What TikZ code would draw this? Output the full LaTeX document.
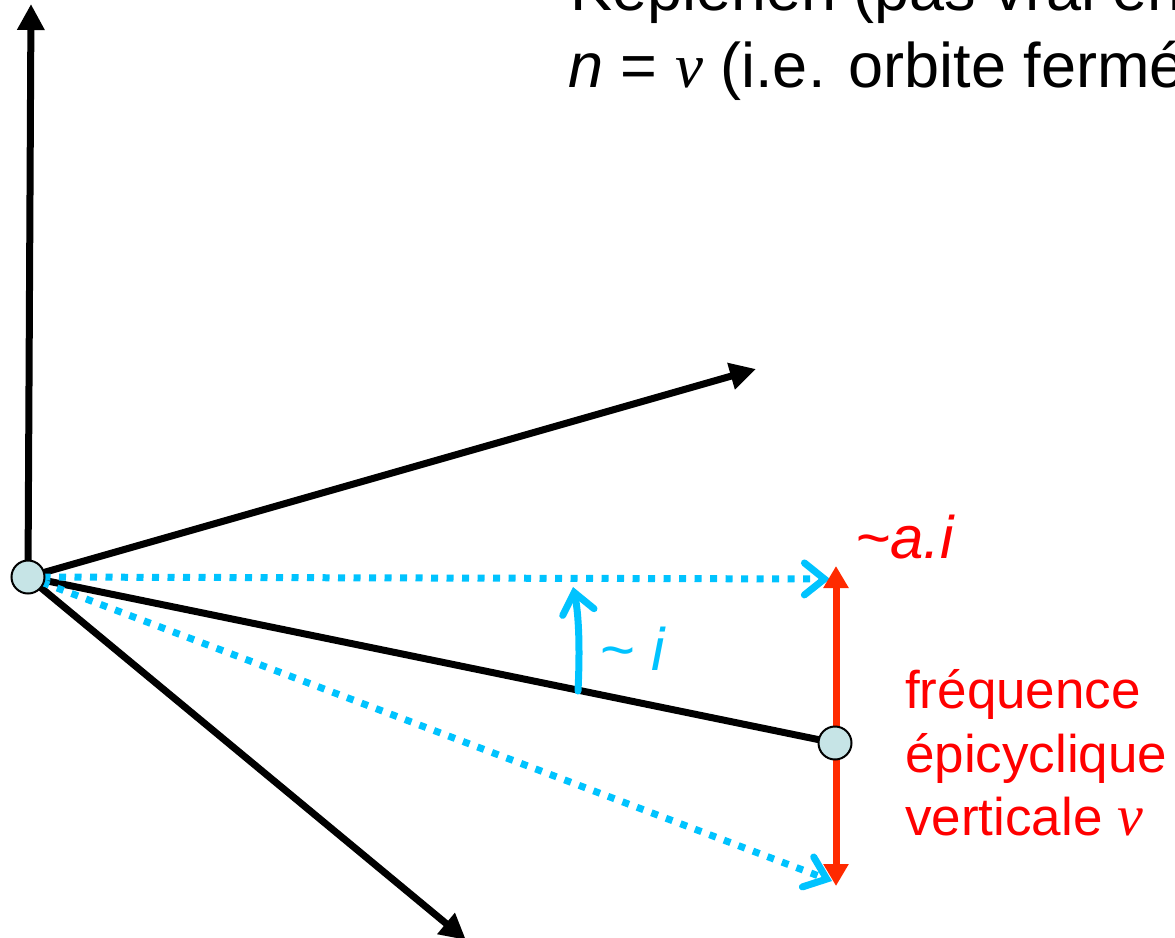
\documentclass[tikz,border=0pt]{standalone}
\usepackage{fontspec}
\setmainfont{Liberation Sans}
\newfontfamily\nufont{Liberation Serif}
\usetikzlibrary{arrows.meta}
\definecolor{cyanb}{HTML}{00C3FF}
\definecolor{redarrow}{HTML}{FF2A00}
\definecolor{redtext}{HTML}{FF0000}
\definecolor{dotfill}{HTML}{C6E4E6}
\tikzset{
  axis/.style={line width=7pt, -{Triangle[length=26pt,width=26pt]}},
  blackline/.style={line width=7pt},
  bluedot/.style={cyanb, line width=7pt, dash pattern=on 7pt off 8.5pt,
     -{Straight Barb[length=20pt,width=32pt,line width=7pt,line cap=round]}},
  bluecurve/.style={cyanb, line width=7pt, line cap=round,
     -{Straight Barb[length=20pt,width=32pt,line width=7pt,line cap=round]}},
  redarr/.style={redarrow, line width=7pt,
     {Triangle[length=22pt,width=24pt]}-{Triangle[length=22pt,width=24pt]}},
  ball/.style={circle, draw=black, line width=2pt, fill=dotfill, minimum size=33pt, inner sep=0pt},
  toptext/.style={font=\fontsize{63}{77}\selectfont, anchor=base west, inner sep=0pt},
  redlabel/.style={redtext, font=\fontsize{53}{63.5}\selectfont, inner sep=0pt},
}
\begin{document}
\begin{tikzpicture}[x=1pt,y=-1pt]
\useasboundingbox (0,0) rectangle (1175,937);
% points
\coordinate (Oc) at (28,577);
\coordinate (Pc) at (835,743);
\coordinate (topTip) at (31,4);
\coordinate (upTip) at (756,369);
\coordinate (downTip) at (466,940);
\coordinate (hTip) at (830,579);
\coordinate (dTip) at (832,881);
\coordinate (rTop) at (836,566);
\coordinate (rBot) at (836,886);
\coordinate (cStart) at (578,691);
\coordinate (cEnd) at (573,587);
% black axes
\draw[axis] (Oc) -- (topTip);
\draw[axis] (Oc) -- (upTip);
\draw[axis] (Oc) -- (downTip);
\draw[blackline] (Oc) -- (Pc);
% blue dotted arrows
\draw[bluedot] (Oc) -- (hTip);
\draw[bluedot] (Oc) -- (dTip);
% red double arrow
\draw[redarr] (rBot) -- (rTop);
% blue curved arrow
\draw[bluecurve] (cStart) .. controls (580,650) and (579,615) .. (cEnd);
% balls
\node[ball] (O) at (Oc) {};
\node[ball] (P) at (Pc) {};
% texts
\node[toptext] (t1) at (570,10) {Keplerien (pas vrai en général)};
\node[toptext] (t2) at (568,87) {\textit{n} = {\nufont\itshape ν} (i.e. orbite fermée)};
\node[redtext, font=\fontsize{60}{70}\selectfont, inner sep=0pt, anchor=base west] (ai) at (855,558) {\itshape\textasciitilde a.i};
\node[cyanb, font=\fontsize{60}{70}\selectfont, anchor=base west, inner sep=0pt] (ti) at (600,670) {\textasciitilde\ \itshape i};
\node[redlabel, anchor=base west] (fr) at (905,708) {fréquence};
\node[redlabel, anchor=base west] (ep) at (905,772) {épicyclique};
\node[redlabel, anchor=base west] (ve) at (905,835) {verticale {\nufont\itshape\fontsize{58}{63}\selectfont ν}};
\end{tikzpicture}
\end{document}
